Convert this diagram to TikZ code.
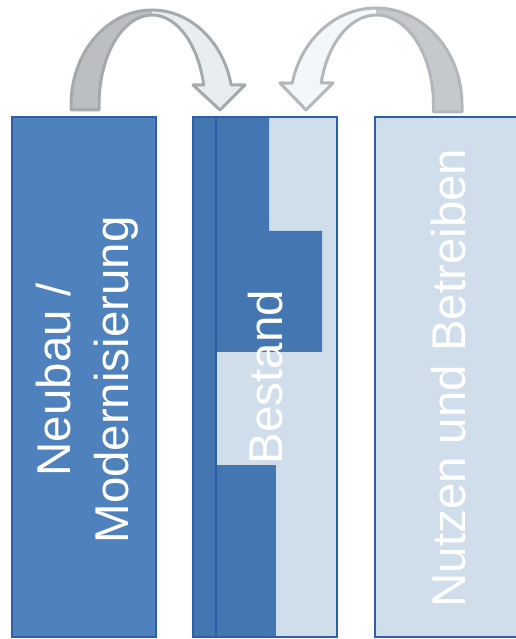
\documentclass[tikz,border=0pt]{standalone}
\usepackage{fontspec}
\setmainfont{Liberation Sans}
\definecolor{colblue}{HTML}{4F81BD}
\definecolor{coldark}{HTML}{4476B2}
\definecolor{collight}{HTML}{D0DEEC}
\definecolor{colborder}{HTML}{2E60A9}
\definecolor{grayline}{HTML}{A6A9AC}
\definecolor{graydark}{HTML}{BBBFC2}
\definecolor{graylight}{HTML}{E8EDF0}
\definecolor{grayline2}{HTML}{B4B7BA}
\definecolor{graydark2}{HTML}{C6C9CB}
\definecolor{graylight2}{HTML}{F3F7F9}
\newcommand{\bendleftpath}{(71,529) -- (71,534) arc[start angle=180, end angle=12.15, x radius=81, y radius=95] -- (245,554) -- (220,529) -- (193,554) -- (203.7,554) arc[start angle=12.84, end angle=180, x radius=53, y radius=90] -- (99,529) -- cycle}
\newcommand{\bendrightpath}{(462,527) -- (462,534) arc[start angle=0, end angle=166.9, x radius=86, y radius=97] -- (280,556) -- (306,529) -- (333,556) -- (321.2,556) arc[start angle=165.85, end angle=0, x radius=57, y radius=90] -- (433.5,534) -- (433.5,527) -- cycle}
\begin{document}
\begin{tikzpicture}[x=0.02cm,y=0.02cm,
  column/.style={draw=colborder,line width=1pt},
  coltext/.style={text=white,rotate=90,font=\fontsize{27}{33}\selectfont,align=center,inner sep=0pt},
  bendline/.style={line width=0.06cm,line join=round}]
\useasboundingbox (0,0) rectangle (515,639);
\draw[column,fill=colblue] (12,2) rectangle (156,522);
\fill[collight] (193,2) rectangle (337,522);
\fill[coldark] (193,2) rectangle (216,522);
\fill[coldark] (216,522) -- (269,522) -- (269,408) -- (322,408) -- (322,287) -- (216,287) -- cycle;
\fill[coldark] (216,2) rectangle (276,174);
\draw[colborder,line width=0.6pt] (216,2) -- (216,522);
\draw[column] (193,2) rectangle (337,522);
\draw[column,fill=collight] (375,2) rectangle (530,522);
\node[coltext] (neubau) at (87,259) {Neubau /\\Modernisierung};
\node[coltext] (bestand) at (266,262) {Bestand};
\node[coltext] (nutzen) at (449,261) {Nutzen und Betreiben};
\begin{scope}
\clip (60,500) rectangle (152,639);
\fill[graydark] \bendleftpath;
\end{scope}
\begin{scope}
\clip (152,500) rectangle (260,639);
\fill[graylight] \bendleftpath;
\end{scope}
\draw[bendline,grayline] \bendleftpath;
\begin{scope}
\clip (270,500) rectangle (376,639);
\fill[graylight2] \bendrightpath;
\end{scope}
\begin{scope}
\clip (376,500) rectangle (480,639);
\fill[graydark2] \bendrightpath;
\end{scope}
\draw[bendline,grayline2] \bendrightpath;
\end{tikzpicture}
\end{document}
